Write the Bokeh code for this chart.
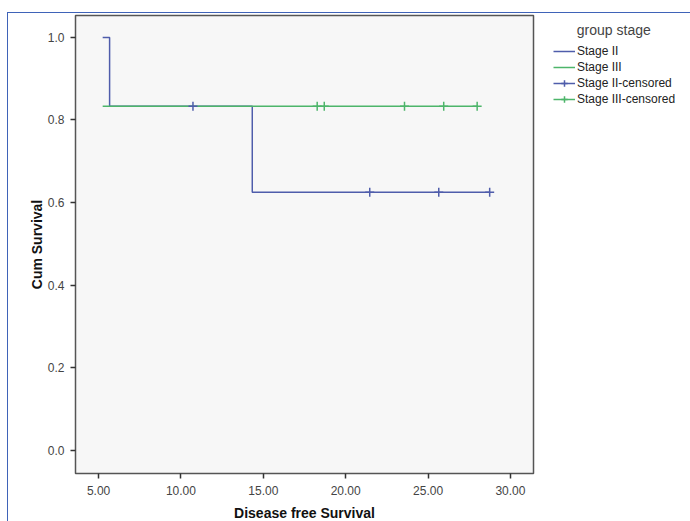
from bokeh.plotting import figure
from bokeh.models import Legend, LegendItem, Range1d, FixedTicker
from bokeh.embed import file_html
from bokeh.resources import INLINE

# Kaplan-Meier data
stage2_step_time = [5.25, 5.67, 14.33, 28.74]
stage2_step_surv = [1.0, 0.8333, 0.625, 0.625]
stage2_cens_time = [10.73, 21.46, 25.65, 28.74]
stage2_cens_surv = [0.8333, 0.625, 0.625, 0.625]

stage3_step_time = [5.25, 28.0]
stage3_step_surv = [0.8333, 0.8333]
stage3_cens_time = [18.27, 18.70, 23.57, 25.95, 27.98]
stage3_cens_surv = [0.8333, 0.8333, 0.8333, 0.8333, 0.8333]

x_ticks = [5, 10, 15, 20, 25, 30]
x_tick_labels = {5: "5.00", 10: "10.00", 15: "15.00", 20: "20.00", 25: "25.00", 30: "30.00"}
y_ticks = [0.0, 0.2, 0.4, 0.6, 0.8, 1.0]
y_tick_labels = {0.0: "0.0", 0.2: "0.2", 0.4: "0.4", 0.6: "0.6", 0.8: "0.8", 1.0: "1.0"}

BLUE = "#4f5dab"
GREEN = "#4db56a"
FONT = "Liberation Sans"
NAN = float("nan")

p = figure(frame_width=458, frame_height=458, output_backend="svg", toolbar_location=None,
           x_range=Range1d(3.6, 31.4), y_range=Range1d(-0.056, 1.053),
           min_border_left=67, min_border_top=2, min_border_bottom=47,
           min_border_right=156)
p.styles = {"margin-left": "7px", "margin-top": "12px",
            "border-left": "1px solid #3f63b8", "border-top": "1px solid #3f63b8"}

p.background_fill_color = "#f7f7f7"
p.border_fill_color = "white"
p.outline_line_color = "#555555"
p.outline_line_width = 1.5
p.grid.visible = False

for ax in (p.xaxis[0], p.yaxis[0]):
    ax.axis_line_color = None
    ax.major_tick_in = 0
    ax.major_tick_out = 5
    ax.major_tick_line_color = "#333333"
    ax.major_tick_line_width = 1.5
    ax.minor_tick_line_color = None
    ax.major_label_text_font = FONT
    ax.major_label_text_font_size = "12px"
    ax.major_label_text_color = "#444444"
    ax.axis_label_text_font = FONT
    ax.axis_label_text_font_size = "14px"
    ax.axis_label_text_font_style = "bold"
    ax.axis_label_text_color = "#111111"

p.xaxis.ticker = FixedTicker(ticks=x_ticks)
p.xaxis.major_label_overrides = x_tick_labels
p.xaxis.axis_label = "Disease free Survival"
p.xaxis.major_label_standoff = 7
p.xaxis.axis_label_standoff = 7

p.yaxis.ticker = FixedTicker(ticks=y_ticks)
p.yaxis.major_label_overrides = y_tick_labels
p.yaxis.axis_label = "Cum Survival"
p.yaxis.major_label_standoff = 6
p.yaxis.axis_label_standoff = 0

r2 = p.step(stage2_step_time, stage2_step_surv, mode="after", line_color=BLUE, line_width=1.5)
r3 = p.step(stage3_step_time, stage3_step_surv, mode="after", line_color=GREEN, line_width=1.5)
c2 = p.scatter(stage2_cens_time, stage2_cens_surv, marker="cross", size=9,
               line_color=BLUE, line_width=1.5)
c3 = p.scatter(stage3_cens_time, stage3_cens_surv, marker="cross", size=9,
               line_color=GREEN, line_width=1.5)
# legend-only line renderers (a single NaN point, draws nothing in the plot)
l2 = p.line([NAN], [NAN], line_color=BLUE, line_width=1.5)
l3 = p.line([NAN], [NAN], line_color=GREEN, line_width=1.5)

legend = Legend(items=[
    LegendItem(label="Stage II", renderers=[r2]),
    LegendItem(label="Stage III", renderers=[r3]),
    LegendItem(label="Stage II-censored", renderers=[l2, c2]),
    LegendItem(label="Stage III-censored", renderers=[l3, c3]),
], location=(20, 366))
legend.title = "\u2003\u2002\u2009group stage"
legend.title_text_font = FONT
legend.title_text_font_size = "14px"
legend.title_text_font_style = "normal"
legend.title_text_color = "#444444"
legend.title_standoff = 5
legend.border_line_color = None
legend.background_fill_alpha = 0
legend.margin = 0
legend.padding = 0
legend.spacing = 0
legend.glyph_width = 22
legend.glyph_height = 16
legend.label_height = 16
legend.label_standoff = 2
legend.label_text_font = FONT
legend.label_text_font_size = "12px"
legend.label_text_color = "#222222"
p.add_layout(legend, "right")

open("out.html", "w").write(file_html(p, INLINE))
